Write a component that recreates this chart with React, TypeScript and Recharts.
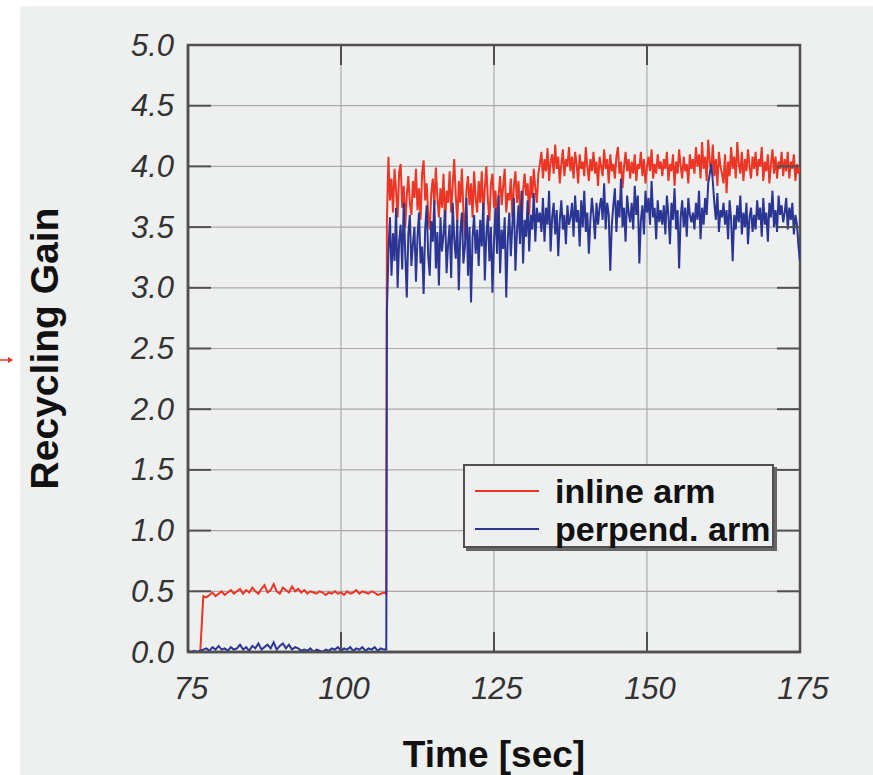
import React from "react";
import { LineChart, Line, XAxis, YAxis, CartesianGrid, ReferenceArea, Legend } from "recharts";

// ---- Data ----
// Before the lock (75 s – 107.4 s), sampled every 0.5 s
const lowTimes = [
  75, 75.5, 76, 76.5, 77, 77.5,
  78, 78.5, 79, 79.5, 80, 80.5, 81, 81.5, 82, 82.5,
  83, 83.5, 84, 84.5, 85, 85.5, 86, 86.5, 87, 87.5,
  88, 88.5, 89, 89.5, 90, 90.5, 91, 91.5, 92, 92.5,
  93, 93.5, 94, 94.5, 95, 95.5, 96, 96.5, 97, 97.5,
  98, 98.5, 99, 99.5, 100, 100.5, 101, 101.5, 102, 102.5,
  103, 103.5, 104, 104.5, 105, 105.5, 106, 106.5, 107, 107.4,
];

const inlineLow = [
  0, 0, 0, 0, 0, 0.46,
  0.45, 0.47, 0.49, 0.46, 0.48, 0.5, 0.47, 0.49, 0.51, 0.48,
  0.5, 0.52, 0.48, 0.51, 0.49, 0.53, 0.5, 0.48, 0.52, 0.55,
  0.49, 0.51, 0.56, 0.5, 0.48, 0.53, 0.51, 0.49, 0.54, 0.5,
  0.52, 0.49, 0.51, 0.48, 0.5, 0.49, 0.48, 0.5, 0.49, 0.47,
  0.49, 0.48, 0.5, 0.48, 0.49, 0.47, 0.5, 0.48, 0.49, 0.51,
  0.48, 0.5, 0.49, 0.48, 0.5, 0.49, 0.47, 0.48, 0.49, 0.48,
];

const perpendLow = [
  0.01, 0.0, 0.01, 0.0, 0.01, 0.02,
  0.03, 0.01, 0.04, 0.02, 0.05, 0.02, 0.03, 0.01, 0.04, 0.02,
  0.03, 0.06, 0.02, 0.04, 0.01, 0.05, 0.03, 0.07, 0.02, 0.04,
  0.06, 0.03, 0.08, 0.02, 0.05, 0.07, 0.03, 0.06, 0.02, 0.04,
  0.03, 0.01, 0.02, 0.01, 0.03, 0.0, 0.02, 0.01, 0.0, 0.02,
  0.01, 0.03, 0.02, 0.04, 0.01, 0.03, 0.02, 0.04, 0.01, 0.03,
  0.02, 0.04, 0.01, 0.03, 0.02, 0.04, 0.01, 0.03, 0.02, 0.02,
];

// After the lock: samples every 0.25 s starting at 107.5 s
const highStart = 107.5;
const highStep = 0.25;

const inlineHigh = [
  3.55, 4.08, 3.72, 3.9, 3.62, 3.98, 3.8, 3.58, 3.95, 4.02, 3.66, 3.84, 3.5, 3.76, 3.92, 3.7, 3.6, 3.88, 3.74, 3.98,
  3.64, 3.82, 3.56, 3.94, 4.05, 3.72, 3.86, 3.6, 3.48, 3.78, 3.9, 3.68, 3.99, 3.74, 3.58, 3.82, 3.66, 3.94, 3.52, 3.8,
  3.7, 3.96, 3.62, 3.84, 4.06, 3.76, 3.54, 3.88, 3.7, 3.98, 3.64, 3.42, 3.8, 3.92, 3.68, 3.86, 3.58, 3.96, 3.74, 3.62,
  3.88, 3.7, 3.96, 3.6, 3.82, 4.0, 3.72, 3.55, 3.86, 3.94, 3.66, 3.8, 3.5, 3.76, 3.92, 3.68, 3.84, 3.98, 3.62, 3.78,
  3.72, 3.9, 3.58, 3.84, 3.96, 3.7, 3.88, 3.64, 3.46, 3.8, 3.94, 3.76, 3.86, 3.6, 3.92, 3.74, 3.98, 3.82, 3.7, 3.94,
  4.02, 4.12, 3.9, 4.06, 3.96, 4.15, 3.88, 4.04, 4.1, 3.94, 4.18, 3.98, 4.08, 3.86, 4.02, 4.14, 3.92, 4.06, 4.0, 4.16,
  3.96, 4.08, 3.9, 4.12, 4.02, 3.86, 4.1, 3.98, 4.04, 3.92, 4.16, 4.0, 3.88, 4.06, 3.96, 4.12, 3.94, 4.04, 3.84, 4.08,
  4.0, 3.92, 4.14, 3.98, 4.06, 3.86, 4.1, 3.96, 4.02, 3.9, 4.08, 4.16, 3.94, 4.04, 3.82, 4.0, 4.12, 3.96, 4.06, 3.9,
  4.04, 3.94, 4.1, 3.88, 4.02, 3.98, 4.12, 3.92, 4.06, 3.86, 4.0, 4.08, 3.96, 4.14, 3.9, 4.02, 3.94, 4.1, 3.98, 4.04,
  3.92, 4.06, 3.98, 4.12, 3.88, 4.02, 3.96, 4.1, 3.84, 4.04, 3.94, 4.14, 4.0, 3.9, 4.08, 3.96, 4.02, 3.86, 4.1, 3.98,
  4.06, 3.94, 4.16, 4.0, 4.1, 3.9, 4.2, 3.98, 4.08, 3.88, 4.22, 4.04, 3.96, 4.18, 3.92, 4.06, 3.84, 4.12, 4.0, 3.94,
  3.86, 4.1, 3.78, 4.04, 3.92, 4.16, 3.98, 4.08, 3.9, 4.2, 4.02, 3.94, 4.12, 3.88, 4.06, 3.96, 4.14, 4.0, 3.9, 4.08,
  3.98, 4.12, 3.92, 4.06, 4.0, 4.16, 3.88, 4.04, 3.96, 4.1, 3.86, 4.02, 4.14, 3.94, 4.08, 3.9, 4.04, 3.98, 4.12, 3.92,
  4.06, 3.96, 4.12, 3.9, 4.04, 3.98, 4.1, 3.88, 4.02, 3.94, 4.0,
];

const perpendHigh = [
  2.8, 3.3, 3.58, 3.1, 3.45, 3.22, 3.66, 3.0, 3.38, 3.52, 3.15, 3.7, 3.28, 2.92, 3.44, 3.6, 3.18, 3.36, 3.5, 3.05,
  3.42, 3.62, 3.2, 3.34, 2.95, 3.48, 3.68, 3.26, 3.1, 3.55, 3.38, 3.72, 3.16, 3.46, 3.02, 3.58, 3.3, 3.44, 3.64, 3.12,
  3.36, 3.52, 3.08, 3.7, 3.4, 3.24, 3.56, 2.98, 3.46, 3.62, 3.2, 3.34, 3.74, 3.1, 3.5, 2.88, 3.42, 3.6, 3.28, 3.48,
  3.18, 3.56, 3.34, 3.7, 3.06, 3.44, 3.6, 3.22, 3.5, 2.96, 3.38, 3.66, 3.28, 3.76, 3.12, 3.48, 3.32, 3.58, 2.92, 3.4,
  3.62, 3.26, 3.52, 3.74, 3.14, 3.46, 3.68, 3.36, 3.8, 3.2, 3.56, 3.42, 3.72, 3.3, 3.6, 3.48, 3.78, 3.38, 3.66, 3.54,
  3.62, 3.46, 3.74, 3.38, 3.66, 3.52, 3.8, 3.3, 3.58, 3.7, 3.44, 3.64, 3.26, 3.56, 3.72, 3.48, 3.6, 3.36, 3.68, 3.52,
  3.58, 3.7, 3.42, 3.76, 3.54, 3.64, 3.34, 3.72, 3.5, 3.8, 3.46, 3.62, 3.28, 3.56, 3.74, 3.6, 3.4, 3.7, 3.52, 3.66,
  3.74, 3.56, 3.86, 3.48, 3.7, 3.6, 3.14, 3.52, 3.68, 3.82, 3.46, 3.72, 3.58, 3.9, 3.5, 3.66, 3.38, 3.76, 3.62, 3.54,
  3.7, 3.48, 3.84, 3.6, 3.76, 3.2, 3.56, 3.68, 3.44, 3.8, 3.62, 3.74, 3.52, 3.88, 3.58, 3.66, 3.4, 3.72, 3.54, 3.64,
  3.52, 3.68, 3.44, 3.76, 3.6, 3.36, 3.7, 3.56, 3.82, 3.48, 3.64, 3.16, 3.58, 3.72, 3.5, 3.66, 3.42, 3.74, 3.6, 3.54,
  3.62, 3.48, 3.7, 3.56, 3.8, 3.4, 3.66, 3.52, 3.74, 3.6, 3.86, 3.94, 4.02, 3.88, 3.7, 3.56, 3.78, 3.46, 3.64, 3.58,
  3.7, 3.52, 3.64, 3.4, 3.72, 3.56, 3.22, 3.6, 3.48, 3.68, 3.54, 3.76, 3.44, 3.62, 3.5, 3.7, 3.36, 3.58, 3.66, 3.46,
  3.6, 3.48, 3.72, 3.56, 3.66, 3.42, 3.74, 3.52, 3.62, 3.38, 3.7, 3.58, 3.8, 3.5, 3.64, 3.46, 3.76, 3.6, 3.68, 3.54,
  3.62, 3.74, 3.48, 3.66, 3.56, 3.7, 3.44, 3.6, 3.52, 3.34, 3.22,
];

const xTicks = [75, 100, 125, 150, 175];
const yTicks = [0, 0.5, 1, 1.5, 2, 2.5, 3, 3.5, 4, 4.5, 5];
const seriesNames = ["inline arm", "perpend. arm"];
const xLabel = "Time [sec]";
const yLabel = "Recycling Gain";

// ---- Layout / style ----
const W = 873;
const H = 775;
const MARGIN = { top: 45, right: 73, left: 0, bottom: 0 };
const Y_AXIS_W = 188;
const X_AXIS_H = 123;
const PLOT_W = W - MARGIN.left - MARGIN.right - Y_AXIS_W;
const PLOT_H = H - MARGIN.top - MARGIN.bottom - X_AXIS_H;
const RED = "#ec3524";
const BLUE = "#2b3593";
const FRAME = "#505050";
const FONT = "'Liberation Sans', Arial, Helvetica, sans-serif";

const buildSeries = (low: number[], high: number[]) => [
  ...lowTimes.map((t, i) => ({ time: t, gain: low[i] })),
  ...high.map((v, i) => ({ time: highStart + i * highStep, gain: v })),
];
const inlineData = buildSeries(inlineLow, inlineHigh);
const perpendData = buildSeries(perpendLow, perpendHigh);

const YTick = (props: any) => {
  const { x, y, payload } = props;
  return (
    <g>
      <line x1={x} x2={x + 23} y1={y} y2={y} stroke={FRAME} strokeWidth={2} />
      <line x1={x + PLOT_W - 23} x2={x + PLOT_W} y1={y} y2={y} stroke={FRAME} strokeWidth={2} />
      <text
        x={x - 14}
        y={y}
        textAnchor="end"
        dominantBaseline="central"
        fontFamily={FONT}
        fontStyle="italic"
        fontSize={31}
        fill="#333"
      >
        {Number(payload.value).toFixed(1)}
      </text>
    </g>
  );
};

const XTick = (props: any) => {
  const { x, y, payload } = props;
  return (
    <g>
      <line x1={x} x2={x} y1={y} y2={y - 20} stroke={FRAME} strokeWidth={2} />
      <line x1={x} x2={x} y1={y - PLOT_H} y2={y - PLOT_H + 20} stroke={FRAME} strokeWidth={2} />
      <text
        x={x + 3}
        y={y + 36}
        textAnchor="middle"
        dominantBaseline="central"
        fontFamily={FONT}
        fontStyle="italic"
        fontSize={31}
        fill="#333"
      >
        {payload.value}
      </text>
    </g>
  );
};

const LegendBox = (props: any) => {
  const payload = props.payload || [];
  return (
    <div
      style={{
        width: 311,
        height: 84,
        border: `2px solid ${FRAME}`,
        boxShadow: "3px 3px 0 #666",
        background: "#eef0f0",
        boxSizing: "border-box",
        paddingTop: 6,
      }}
    >
      {payload.map((p: any) => (
        <div key={p.value} style={{ display: "flex", alignItems: "center", height: 38 }}>
          <div style={{ width: 64, height: 2, background: p.color, marginLeft: 10, marginRight: 16 }} />
          <span style={{ fontFamily: FONT, fontWeight: "bold", fontSize: 34, color: "#111", lineHeight: "38px" }}>
            {p.value}
          </span>
        </div>
      ))}
    </div>
  );
};

export default function App() {
  return (
    <div style={{ position: "absolute", left: 0, top: 0, width: W, height: H, background: "#fff", overflow: "hidden" }}>
      <div style={{ position: "absolute", left: 20, top: 6, width: W - 20, height: H - 6, background: "#eef0f0" }} />
      <svg style={{ position: "absolute", left: 0, top: 352 }} width={16} height={16}>
        <line x1={0} y1={8} x2={12} y2={8} stroke={RED} strokeWidth={1.5} />
        <path d="M8,5 L13,8 L8,11 Z" fill={RED} />
      </svg>
      <div style={{ position: "absolute", left: 0, top: 0 }}>
        <LineChart width={W} height={H} margin={MARGIN}>
          <CartesianGrid stroke="#a9a9a9" strokeWidth={1.2} vertical horizontal />
          <XAxis
            dataKey="time"
            type="number"
            domain={[75, 175]}
            ticks={xTicks}
            allowDataOverflow
            height={X_AXIS_H}
            tickSize={0}
            tickMargin={0}
            tickLine={false}
            axisLine={{ stroke: FRAME, strokeWidth: 2.5 }}
            tick={<XTick />}
            label={{
              value: xLabel,
              position: "insideBottom",
              offset: 8,
              style: { fontFamily: FONT, fontWeight: "bold", fontSize: 37, fill: "#111" },
            }}
          />
          <YAxis
            type="number"
            domain={[0, 5]}
            ticks={yTicks}
            allowDataOverflow
            width={Y_AXIS_W}
            tickSize={0}
            tickMargin={0}
            tickLine={false}
            axisLine={{ stroke: FRAME, strokeWidth: 2.5 }}
            tick={<YTick />}
            label={{
              value: yLabel,
              angle: -90,
              position: "insideLeft",
              offset: 44,
              style: { fontFamily: FONT, fontWeight: "bold", fontSize: 39, fill: "#111", textAnchor: "middle" },
            }}
          />
          <ReferenceArea x1={75} x2={175} y1={0} y2={5} fill="none" stroke={FRAME} strokeWidth={2.5} ifOverflow="visible" />
          <Line
            data={inlineData}
            dataKey="gain"
            name={seriesNames[0]}
            stroke={RED}
            strokeWidth={2}
            dot={false}
            type="linear"
            isAnimationActive={false}
          />
          <Line
            data={perpendData}
            dataKey="gain"
            name={seriesNames[1]}
            stroke={BLUE}
            strokeWidth={2}
            dot={false}
            type="linear"
            isAnimationActive={false}
          />
          <Legend
            layout="horizontal"
            verticalAlign="middle"
            align="center"
            content={<LegendBox />}
            wrapperStyle={{ left: 463, top: 464, width: 315, height: 88 }}
          />
        </LineChart>
      </div>
    </div>
  );
}
